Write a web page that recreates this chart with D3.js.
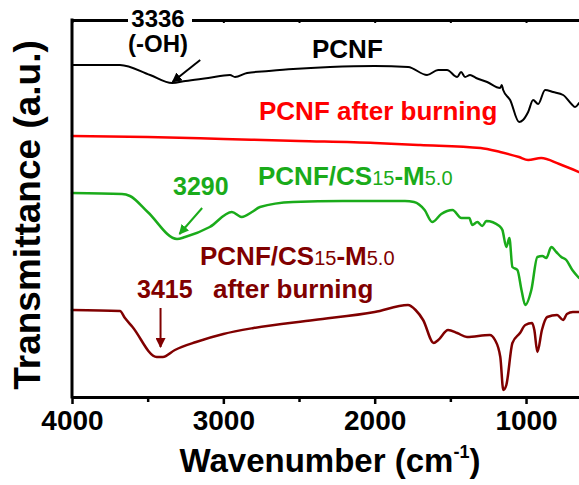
<html>
<head>
<style>
body { margin: 0; background: #fff; }
text { font-family: "Liberation Sans", Arial, sans-serif; font-weight: bold; }
.spec { fill: none; stroke-linejoin: round; stroke-linecap: round; }
</style>
</head>
<body>
<div id="vis"></div>
<script src="https://cdn.jsdelivr.net/npm/d3@7"></script>
<script>
// spectra: [wavenumber, transmittance (a.u., offset stacked)]
var pcnf = [[4000,332],[3683,332],[3484,322],[3339,314],[3250,316],[3100,319],[2956,322],[2923,320],
  [2843,324],[2700,326],[2539,328],[2295,330],[2000,331],[1779,330],[1654,322],[1581,327],[1522,327],
  [1455,320],[1429,325],[1403,320],[1370,322],[1330,319],[1257,315],[1171,309],[1160,312],[1151,307],
  [1105,297],[1046,275],[1020,277],[986,285],[953,297],[920,293],[874,307],[821,305],[755,302],
  [700,293],[676,290],[650,294]];

var pcnfBurnt = [[4000,261],[3500,260],[3000,258],[2500,256],[2000,254],[1700,252],[1300,249],
  [1171,245],[1046,240],[986,237],[900,239],[780,233],[650,225]];

var pcnfCs = [[4000,204],[3670,203],[3617,201],[3500,185],[3306,158],[3253,160],[3090,170],[2944,185],
  [2878,180],[2811,185],[2758,190],[2540,195],[2210,196],[1800,196],[1740,195],[1670,187],[1620,175],
  [1560,183],[1486,187],[1427,179],[1375,179],[1355,172],[1322,175],[1289,171],[1262,176],[1176,171],
  [1156,167],[1130,150],[1110,159],[1090,130],[1057,127],[1030,107],[1005,92],[965,107],[925,140],
  [892,141],[866,139],[833,150],[800,145],[767,140],[734,137],[694,127],[650,119]];

var pcnfCsBurnt = [[4000,87],[3683,86],[3650,79],[3600,70],[3440,40],[3400,40],[3320,47],[3180,55],
  [3000,63],[2800,69],[2400,77],[2000,85],[1780,92],[1730,87],[1680,77],[1610,54],[1580,57],[1515,67],
  [1455,64],[1390,60],[1240,62],[1205,57],[1170,40],[1150,7],[1130,12],[1090,54],[1040,64],[1005,72],
  [960,74],[945,67],[925,45],[895,67],[860,80],[795,82],[755,77],[730,83],[690,85],[650,85]];

var majorTicks = [4000, 3000, 2000, 1000];
var minorTicks = [3500, 2500, 1500];

var margin = {top: 20, left: 72, bottom: 88},
    W = 579, H = 485;

var x = d3.scaleLinear().domain([4000, 650]).range([margin.left, W]);
var y = d3.scaleLinear().domain([0, 377]).range([H - margin.bottom, margin.top]);

var svg = d3.select("#vis").append("svg")
    .attr("width", W).attr("height", H);

var colors = ["#000", "#1aab1a", "#800000"];

svg.append("defs").selectAll("marker")
    .data(colors)
  .enter().append("marker")
    .attr("id", function(d, i) { return "arr" + i; })
    .attr("viewBox", "0 0 10 10").attr("refX", 9).attr("refY", 5)
    .attr("markerWidth", 5).attr("markerHeight", 5)
    .attr("markerUnits", "strokeWidth").attr("orient", "auto")
  .append("path").attr("d", "M0,0L10,5L0,10z").attr("fill", function(d) { return d; });

var line = d3.line()
    .x(function(d) { return x(d[0]); })
    .y(function(d) { return y(d[1]); })
    .curve(d3.curveMonotoneX);

var series = [
  {data: pcnf, color: "#000", w: 2},
  {data: pcnfBurnt, color: "#ff0000", w: 2.5},
  {data: pcnfCs, color: "#1aab1a", w: 2.5},
  {data: pcnfCsBurnt, color: "#800000", w: 2.5}
];

svg.selectAll(".spec")
    .data(series)
  .enter().append("path")
    .attr("class", "spec")
    .attr("d", function(d) { return line(d.data); })
    .attr("stroke", function(d) { return d.color; })
    .attr("stroke-width", function(d) { return d.w; });

// axes
var bottomAxis = svg.append("g")
    .attr("transform", "translate(0," + y(0) + ")")
    .call(d3.axisBottom(x).tickValues(majorTicks).tickFormat(d3.format("d"))
      .tickSize(7).tickSizeOuter(0).tickPadding(6));
bottomAxis.select(".domain").attr("stroke-width", 3);
bottomAxis.selectAll(".tick line").attr("stroke-width", 2.5);
bottomAxis.selectAll(".tick text").attr("font-size", 28).attr("fill", "#000")
    .style("font-family", "'Liberation Sans', Arial, sans-serif");

svg.append("g")
    .attr("transform", "translate(0," + y(0) + ")")
    .call(d3.axisBottom(x).tickValues(minorTicks).tickSize(5).tickFormat(""))
    .call(function(g) { g.select(".domain").remove(); g.selectAll("line").attr("stroke-width", 2.5); });

var topAxis = svg.append("g")
    .attr("transform", "translate(0," + y(377) + ")")
    .call(d3.axisTop(x).tickValues(majorTicks.concat(minorTicks)).tickSize(-3).tickSizeOuter(0).tickFormat(""));
topAxis.select(".domain").attr("stroke-width", 3);
topAxis.selectAll("line").attr("stroke-width", 2);

svg.append("line")
    .attr("x1", x(4000)).attr("x2", x(4000))
    .attr("y1", y(377) - 1.5).attr("y2", y(0) + 1.5)
    .attr("stroke", "#000").attr("stroke-width", 3);

// axis titles
var xt = svg.append("text")
    .attr("x", 330).attr("y", 472)
    .attr("text-anchor", "middle").attr("font-size", 33);
xt.append("tspan").text("Wavenumber (cm");
xt.append("tspan").attr("font-size", 18).attr("dy", -14).text("-1");
xt.append("tspan").attr("dy", 14).text(")");

svg.append("text")
    .attr("transform", "translate(40,215) rotate(-90)")
    .attr("text-anchor", "middle").attr("font-size", 37)
    .text("Transmittance (a.u.)");

// peak annotations
svg.append("rect").attr("x", 128).attr("y", 6).attr("width", 64).attr("height", 24).attr("fill", "#fff");
svg.append("text").attr("x", 158).attr("y", 27).attr("text-anchor", "middle").attr("font-size", 24).text("3336");
svg.append("text").attr("x", 158).attr("y", 52).attr("text-anchor", "middle").attr("font-size", 24).text("(-OH)");

var arrows = [
  {from: [3153, 337], to: [3336, 315], m: 0},
  {from: [3140, 189], to: [3290, 163], m: 1},
  {from: [3415, 89], to: [3415, 50], m: 2}
];
svg.selectAll(".arrow")
    .data(arrows)
  .enter().append("line")
    .attr("class", "arrow")
    .attr("x1", function(d) { return x(d.from[0]); })
    .attr("y1", function(d) { return y(d.from[1]); })
    .attr("x2", function(d) { return x(d.to[0]); })
    .attr("y2", function(d) { return y(d.to[1]); })
    .attr("stroke", function(d) { return colors[d.m]; })
    .attr("stroke-width", 2)
    .attr("marker-end", function(d) { return "url(#arr" + d.m + ")"; });

svg.append("text").attr("x", 312).attr("y", 58).attr("font-size", 26).text("PCNF");
svg.append("text").attr("x", 259).attr("y", 120).attr("font-size", 26).attr("fill", "#ff0000").text("PCNF after burning");
svg.append("text").attr("x", 173).attr("y", 195).attr("font-size", 25).attr("fill", "#1aab1a").text("3290");

function formula(xp, yp, color) {
  var t = svg.append("text").attr("x", xp).attr("y", yp).attr("font-size", 26).attr("fill", color);
  t.append("tspan").text("PCNF/CS");
  t.append("tspan").attr("font-size", 20).attr("font-weight", "normal").text("15");
  t.append("tspan").text("-M");
  t.append("tspan").attr("font-size", 20).attr("font-weight", "normal").text("5.0");
}
formula(258, 185, "#1aab1a");
formula(200, 265, "#800000");

svg.append("text").attr("x", 137).attr("y", 298).attr("font-size", 25).attr("fill", "#800000").text("3415");
svg.append("text").attr("x", 213).attr("y", 298).attr("font-size", 26).attr("fill", "#800000").text("after burning");
</script>
</body>
</html>
